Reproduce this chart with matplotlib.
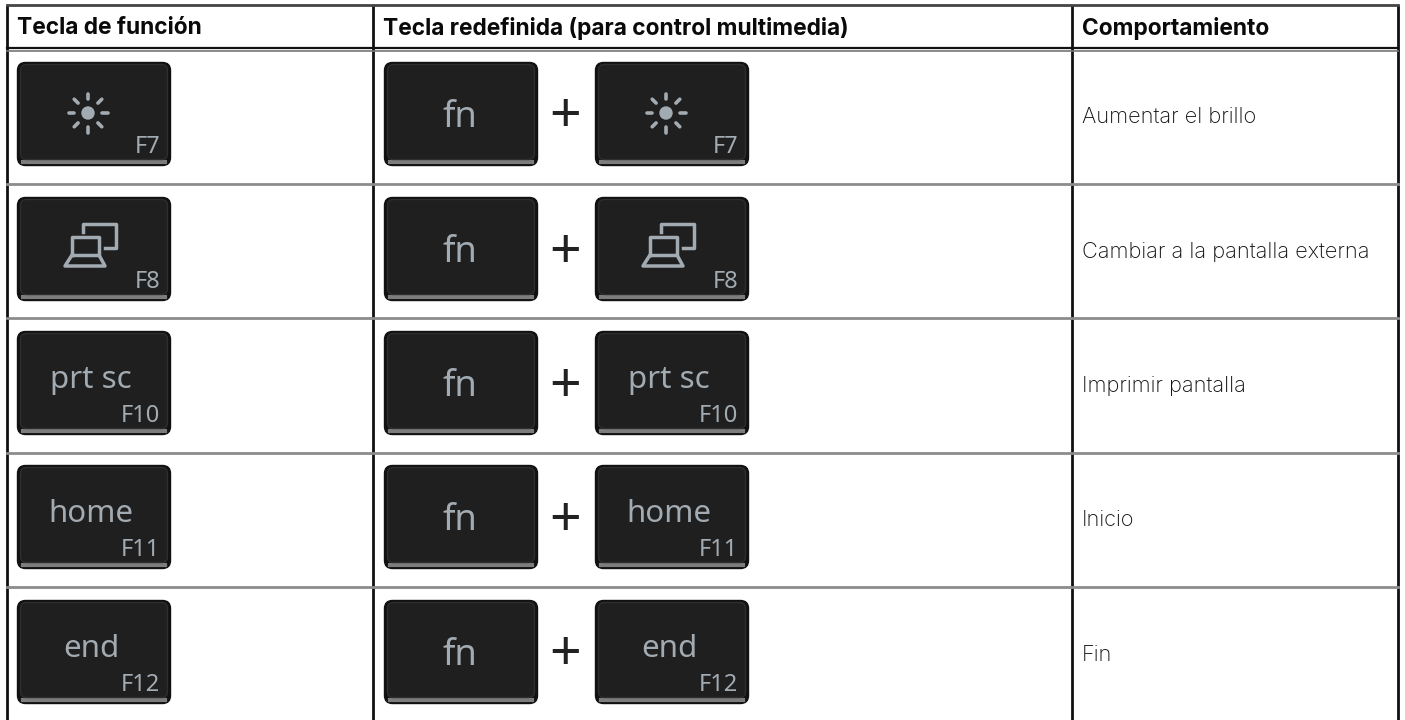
import numpy as np
import matplotlib
matplotlib.use("Agg")
import matplotlib.pyplot as plt
from matplotlib.patches import FancyBboxPatch, Circle

headers = ["Tecla de función", "Tecla redefinida (para control multimedia)", "Comportamiento"]
fkeys = ["F7", "F8", "F10", "F11", "F12"]
key_words = ["", "", "prt sc", "home", "end"]
icons = ["sun", "screen", None, None, None]
behaviours = ["Aumentar el brillo", "Cambiar a la pantalla externa", "Imprimir pantalla", "Inicio", "Fin"]

W, H = 1405, 720
col_lines = [7, 373, 1072, 1398]
row_lines = [184, 318, 453, 587]
key_tops = [62, 197, 331, 465, 600]
text_y = [116, 251, 385, 519, 654]
key_w, key_h = 154, 104
key_col = "#a3abb2"

fig = plt.figure(figsize=(W / 100, H / 100), dpi=100)
ax = fig.add_axes([0, 0, 1, 1])
ax.set_xlim(0, W)
ax.set_ylim(H, 0)
ax.axis("off")


def draw_sun(cx, cy):
    ax.add_patch(Circle((cx, cy), 6.7, fc=key_col, ec="none", zorder=5))
    for a in np.arange(0, 360, 45):
        c, s = np.cos(np.radians(a)), np.sin(np.radians(a))
        ax.plot([cx + 14 * c, cx + 19.5 * c], [cy + 14 * s, cy + 19.5 * s], color=key_col, lw=2.6,
                solid_capstyle="round", zorder=5)


def draw_screen(x, y):
    # laptop outline, then the second screen behind it
    ax.plot([x + 8, x + 8, x + 35, x + 35, x + 8], [y + 58, y + 40, y + 40, y + 58, y + 58], color=key_col, lw=2.5, zorder=5)
    ax.plot([x + 8, x + 1, x + 41, x + 35], [y + 58, y + 69, y + 69, y + 58], color=key_col, lw=2.5,
            solid_joinstyle="round", zorder=5)
    ax.plot([x + 19, x + 19, x + 52, x + 52, x + 41], [y + 35, y + 27, y + 27, y + 51, y + 51], color=key_col, lw=2.5, zorder=5)


def draw_key(x, y, word=None, fkey=None, icon=None):
    ax.add_patch(FancyBboxPatch((x + 4, y + 4), key_w - 8, key_h - 8, boxstyle="round,pad=3.5,rounding_size=8",
                                fc="#111111", ec="#111111", lw=1, zorder=2))
    ax.plot([x + 6, x + key_w - 6], [y + key_h - 4.5, y + key_h - 4.5], color="#7d7d7d", lw=3, zorder=3)
    ax.add_patch(FancyBboxPatch((x + 5, y + 4), key_w - 10, key_h - 12, boxstyle="round,pad=1.5,rounding_size=6",
                                fc="#1f1f1f", ec="#2e2e2e", lw=1, zorder=4))
    if word == "fn":
        ax.text(x + 76, y + 56, word, fontsize=26, family="Noto Sans", color=key_col, ha="center", va="center", zorder=6)
    elif word:
        ax.text(x + 74, y + 49, word, fontsize=22.5, family="Noto Sans", color=key_col, ha="center", va="center", zorder=6)
    if fkey:
        ax.text(x + key_w - 11, y + 85, fkey, fontsize=17, family="Noto Sans", color=key_col, ha="right", va="center", zorder=6)
    if icon == "sun":
        draw_sun(x + 71, y + 51)
    if icon == "screen":
        draw_screen(x + 47, y + 0)


# table rules
for x in col_lines:
    ax.plot([x, x], [5, H], color="#111111", lw=2, solid_capstyle="butt", zorder=1)
ax.plot([col_lines[0], col_lines[-1]], [5, 5], color="#444444", lw=2, zorder=1)
ax.plot([col_lines[0], col_lines[-1]], [47.5, 47.5], color="#111111", lw=1.6, zorder=1)
ax.plot([col_lines[0], col_lines[-1]], [50.5, 50.5], color="#777777", lw=1.2, zorder=1)
for y in row_lines:
    ax.plot([col_lines[0], col_lines[-1]], [y, y], color="#8c8c8c", lw=2, zorder=1.5)

for x, label in zip(col_lines, headers):
    ax.text(x + 10, 28, label, fontsize=16.4, family="Inter", fontweight="bold", color="#0a0a0a", ha="left", va="center")

for i in range(len(fkeys)):
    y = key_tops[i]
    draw_key(17, y, key_words[i], fkeys[i], icons[i])
    draw_key(384, y, "fn")
    ax.text(565, y + 56, "+", fontsize=40, family="Noto Sans", fontweight="bold", color="#222222", ha="center", va="center")
    draw_key(595, y, key_words[i], fkeys[i], icons[i])
    ax.text(1082, text_y[i] + 1, behaviours[i], fontsize=15.7, family="Inter", fontweight="light", color="#111111", ha="left", va="center")

fig.savefig("out.png", dpi=100)
